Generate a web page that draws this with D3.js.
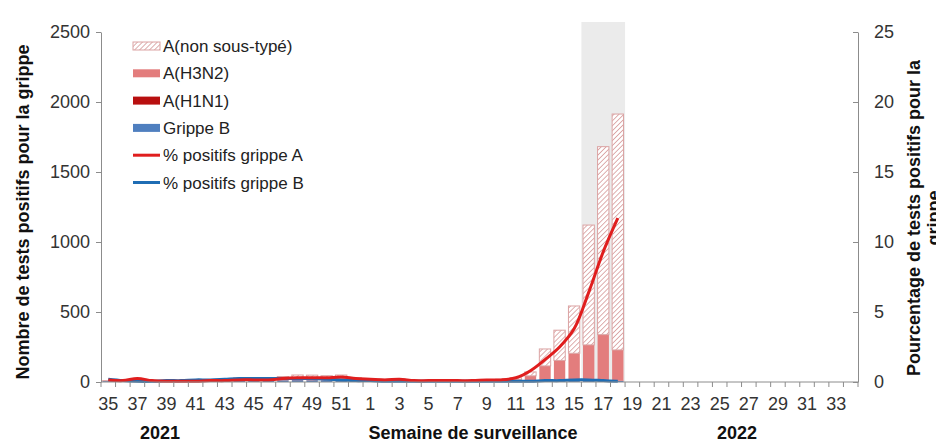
<!DOCTYPE html>
<meta charset="utf-8">
<style>
body { margin: 0; background: #fff; }
svg { font-family: "Liberation Sans", Arial, sans-serif; }
.axis path, .axis line { stroke: #8c8c8c; }
.axis text { fill: #333; font-size: 18px; }
.title { font-weight: bold; font-size: 18px; fill: #111; }
.legend text { font-size: 17px; fill: #222; }
</style>
<body>
<svg width="936" height="447"></svg>
<script src="https://d3js.org/d3.v7.min.js"></script>
<script>

// semaines 35/2021 -> 34/2022
var weeks = [35,36,37,38,39,40,41,42,43,44,45,46,47,48,49,50,51,52,
             1,2,3,4,5,6,7,8,9,10,11,12,13,14,15,16,17,18,19,20,21,22,23,24,25,26,27,28,29,30,31,32,33,34];

var grippeB   = [8,4,5,4,6,6,8,9,12,15,14,12,12,13,12,10,10,6,
                 5,4,4,3,3,3,3,3,4,4,5,5,6,7,8,8,9,7];
var aH1N1     = [0,0,1,0,0,0,0,0,0,0,1,0,1,1,1,1,1,1,
                 1,0,0,0,0,0,0,0,0,0,1,1,1,2,2,2,3,2];
var aH3N2     = [0,0,3,1,1,1,1,1,2,3,3,4,8,12,12,12,14,8,
                 7,6,7,4,4,3,4,4,6,7,12,38,108,145,195,255,326,220];
var aNonType  = [2,2,6,2,2,2,3,4,5,12,12,10,18,24,24,22,25,15,
                 12,10,12,6,6,5,5,6,8,9,12,28,121,216,338,856,1343,1685];

var pctA = [0.15,0.1,0.25,0.1,0.05,0.05,0.05,0.1,0.1,0.15,0.15,0.15,0.25,0.3,0.3,0.3,0.35,0.25,
            0.2,0.15,0.2,0.1,0.1,0.1,0.1,0.1,0.15,0.15,0.3,0.8,1.6,2.5,3.8,6.4,9.3,11.7];
var pctB = [0.2,0.1,0.05,0.05,0.1,0.1,0.15,0.15,0.2,0.25,0.25,0.25,0.25,0.25,0.25,0.2,0.15,0.1,
            0.1,0.05,0.05,0.05,0.05,0.05,0.05,0.05,0.05,0.05,0.05,0.05,0.1,0.1,0.15,0.15,0.1,0.05];

var shadedWeeks = [16, 17, 18];

var leftTicks = [0,500,1000,1500,2000,2500];
var rightTicks = [0,5,10,15,20,25];

var svg = d3.select("svg"),
    pLeft = 101, pRight = 858, pTop = 32, pBottom = 382;

var keys = weeks.map(function(w, i) { return i; });
var x = d3.scaleBand().domain(keys).range([pLeft, pRight]).paddingInner(0.22).paddingOuter(0.11);
var step = x.step();
var y = d3.scaleLinear().domain([0, 2500]).range([pBottom, pTop]);
var y2 = d3.scaleLinear().domain([0, 25]).range([pBottom, pTop]);

// hachures
var defs = svg.append("defs");
var pat = defs.append("pattern")
    .attr("id", "hatch")
    .attr("patternUnits", "userSpaceOnUse")
    .attr("width", 3.5).attr("height", 3.5)
    .attr("patternTransform", "rotate(45)");
pat.append("rect").attr("width", 3.5).attr("height", 3.5).attr("fill", "#fff");
pat.append("line").attr("x1", 0).attr("y1", 0).attr("x2", 0).attr("y2", 3.5)
    .attr("stroke", "#d49595").attr("stroke-width", 1.5);

// zone grisée
var si = weeks.indexOf(shadedWeeks[0]), ei = weeks.indexOf(shadedWeeks[shadedWeeks.length - 1]);
svg.append("rect")
    .attr("x", x(si) - step * x.paddingInner() / 2)
    .attr("width", step * (ei - si + 1))
    .attr("y", 22)
    .attr("height", pBottom - 22)
    .attr("fill", "#ebebeb");

// barres empilées
var rows = weeks.map(function(w, i) {
  return { i: i, b: grippeB[i] || 0, h1: aH1N1[i] || 0, h3: aH3N2[i] || 0, ns: aNonType[i] || 0 };
});
var stack = d3.stack().keys(["b", "h1", "h3", "ns"])(rows);
var fills = { b: "#4f7fbf", h1: "#b80f0f", h3: "#e37d7d", ns: "url(#hatch)" };

stack.forEach(function(layer) {
  svg.append("g").selectAll("rect")
    .data(layer.filter(function(d) { return d[1] > d[0]; }))
    .enter().append("rect")
      .attr("x", function(d) { return x(d.data.i); })
      .attr("width", x.bandwidth())
      .attr("y", function(d) { return y(d[1]); })
      .attr("height", function(d) { return y(d[0]) - y(d[1]); })
      .attr("fill", fills[layer.key])
      .attr("stroke", layer.key == "ns" ? "#dba3a3" : "none")
      .attr("stroke-width", 1);
});

// courbes %
var line = d3.line()
    .x(function(d, i) { return x(i) + x.bandwidth() / 2; })
    .y(function(d) { return y2(d); })
    .curve(d3.curveCatmullRom);

svg.append("path").datum(pctB)
    .attr("fill", "none").attr("stroke", "#1f6db4").attr("stroke-width", 3).attr("d", line);
svg.append("path").datum(pctA)
    .attr("fill", "none").attr("stroke", "#e01e1e").attr("stroke-width", 3).attr("d", line);

// axes
svg.append("g")
    .attr("class", "axis")
    .attr("transform", "translate(" + pLeft + ",0)")
    .call(d3.axisLeft(y).tickValues(leftTicks).tickFormat(d3.format("d"))
      .tickSize(5).tickPadding(6).tickSizeOuter(0));

svg.append("g")
    .attr("class", "axis")
    .attr("transform", "translate(" + pRight + ",0)")
    .call(d3.axisRight(y2).tickValues(rightTicks).tickFormat(d3.format("d"))
      .tickSize(-5).tickPadding(16).tickSizeOuter(0));

var xAxis = svg.append("g")
    .attr("class", "axis")
    .attr("transform", "translate(0," + pBottom + ")")
    .call(d3.axisBottom(x).tickSize(0).tickPadding(15).tickSizeOuter(0)
      .tickFormat(function(i) { return i % 2 == 0 ? weeks[i] : ""; }));
xAxis.select(".domain").attr("d", "M" + pLeft + ",0H" + pRight);
xAxis.selectAll(".bound")
    .data(d3.range(weeks.length + 1))
    .enter().append("line")
      .attr("class", "bound")
      .attr("x1", function(k) { return k < weeks.length ? x(k) - step * x.paddingInner() / 2 : pRight; })
      .attr("x2", function(k) { return k < weeks.length ? x(k) - step * x.paddingInner() / 2 : pRight; })
      .attr("y1", 0).attr("y2", 5);

// titres
svg.append("text").attr("class", "title")
    .attr("transform", "translate(29,212) rotate(-90)")
    .attr("text-anchor", "middle")
    .text("Nombre de tests positifs pour la grippe");

var rt = svg.append("text").attr("class", "title")
    .attr("transform", "translate(920,218) rotate(-90)")
    .attr("text-anchor", "middle");
rt.append("tspan").attr("x", 0).attr("y", 0).text("Pourcentage de tests positifs pour la");
rt.append("tspan").attr("x", 0).attr("dy", 20).text("grippe");

svg.append("text").attr("class", "title").attr("x", 160).attr("y", 439)
    .attr("text-anchor", "middle").text("2021");
svg.append("text").attr("class", "title").attr("x", 473).attr("y", 439)
    .attr("text-anchor", "middle").text("Semaine de surveillance");
svg.append("text").attr("class", "title").attr("x", 737).attr("y", 439)
    .attr("text-anchor", "middle").text("2022");

// légende
var legendItems = [
  { name: "A(non sous-typé)", type: "rect", fill: "url(#hatch)", stroke: "#dba3a3" },
  { name: "A(H3N2)", type: "rect", fill: fills.h3 },
  { name: "A(H1N1)", type: "rect", fill: fills.h1 },
  { name: "Grippe B", type: "rect", fill: fills.b },
  { name: "% positifs grippe A", type: "line", stroke: "#e01e1e" },
  { name: "% positifs grippe B", type: "line", stroke: "#1f6db4" }
];
var legend = svg.append("g").attr("class", "legend")
  .selectAll("g").data(legendItems).enter().append("g")
    .attr("transform", function(d, i) { return "translate(133," + (46 + i * 27.3) + ")"; });
legend.each(function(d) {
  var g = d3.select(this);
  if (d.type == "rect") {
    g.append("rect").attr("x", 0).attr("y", -4).attr("width", 27).attr("height", 8)
      .attr("fill", d.fill).attr("stroke", d.stroke || "none");
  } else {
    g.append("line").attr("x1", 0).attr("x2", 27).attr("y1", 0).attr("y2", 0)
      .attr("stroke", d.stroke).attr("stroke-width", 3);
  }
});
legend.append("text").attr("x", 30).attr("y", 6).text(function(d) { return d.name; });

</script>
</body>
